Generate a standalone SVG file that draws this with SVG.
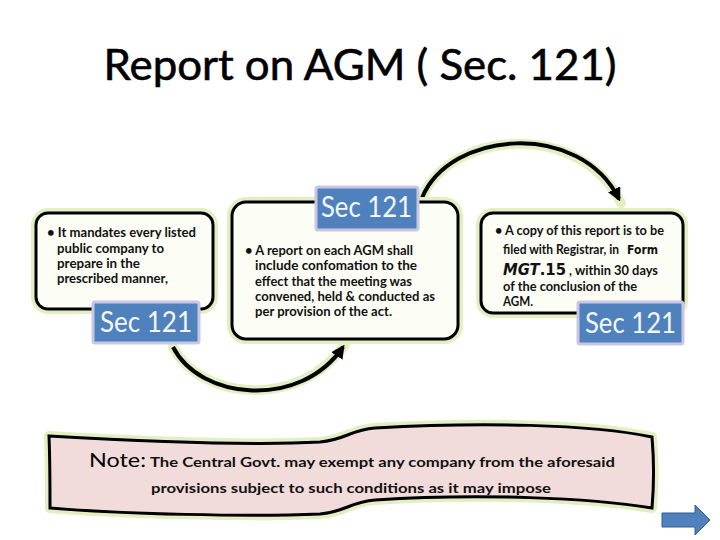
<svg xmlns="http://www.w3.org/2000/svg" width="720" height="540" viewBox="0 0 720 540">
<defs>
<style>
.glow{fill:none;stroke:#e3efc2;stroke-width:10;stroke-linejoin:round;stroke-linecap:round}
.box{fill:#fcfdf4;stroke:#000;stroke-width:3}
.lab{fill:#4f81bd;stroke:#cbc5e4;stroke-width:3}
.labt{font-family:Lato,"Open Sans","Liberation Sans",sans-serif;font-size:28px;fill:#f4f7fb}
.t{font-family:Lato,"Open Sans","Liberation Sans",sans-serif;font-weight:bold;font-size:13px;fill:#111}
.dv{font-family:"DejaVu Sans",sans-serif;font-weight:bold}
.conn{fill:none;stroke:#000;stroke-width:4}
</style>
<marker id="ah" viewBox="0 0 10 10" refX="8" refY="5" markerWidth="3.4" markerHeight="3.4" orient="auto" markerUnits="strokeWidth">
<path d="M0,0 L10,5 L0,10 Z" fill="#000"/>
</marker>
</defs>
<rect width="720" height="540" fill="#fff"/>
<text x="360" y="80" text-anchor="middle" font-family="Lato,'Open Sans','Liberation Sans',sans-serif" font-size="42" fill="#000" stroke="#000" stroke-width="0.6" textLength="513" lengthAdjust="spacingAndGlyphs">Report on AGM ( Sec. 121)</text>

<g id="connectors">
<path class="glow" d="M422,198 C450,130 580,120 621,203"/>
<path class="glow" d="M173,347 C200,400 300,410 345,344"/>
<path class="conn" d="M422,198 C450,130 580,120 619,199" marker-end="url(#ah)"/>
<path class="conn" d="M173,347 C200,400 300,410 343,347" marker-end="url(#ah)"/>
</g>

<g id="node1">
<rect class="glow" x="36" y="213" width="177" height="96" rx="12"/>
<rect class="box" x="36" y="213" width="177" height="96" rx="12"/>
<text class="t" x="47" y="237" textLength="149" lengthAdjust="spacingAndGlyphs">• It mandates every listed</text>
<text class="t" x="57" y="253" textLength="107" lengthAdjust="spacingAndGlyphs">public company to</text>
<text class="t" x="57" y="268" textLength="83" lengthAdjust="spacingAndGlyphs">prepare in the</text>
<text class="t" x="57" y="283" textLength="111" lengthAdjust="spacingAndGlyphs">prescribed manner,</text>
<rect class="lab" x="93" y="302" width="106" height="41" rx="2"/>
<text class="labt" x="100" y="332" textLength="92" lengthAdjust="spacingAndGlyphs">Sec 121</text>
</g>

<g id="node2">
<rect class="glow" x="232" y="202" width="226" height="137" rx="14"/>
<rect class="box" x="232" y="202" width="226" height="137" rx="14"/>
<rect class="lab" x="316" y="187" width="102" height="43" rx="2"/>
<text class="labt" x="321" y="217" textLength="91" lengthAdjust="spacingAndGlyphs">Sec 121</text>
<text class="t" x="245" y="255" textLength="168" lengthAdjust="spacingAndGlyphs">• A report on each AGM shall</text>
<text class="t" x="255" y="270" textLength="162" lengthAdjust="spacingAndGlyphs">include confomation to the</text>
<text class="t" x="255" y="286" textLength="157" lengthAdjust="spacingAndGlyphs">effect that the meeting was</text>
<text class="t" x="255" y="301" textLength="180" lengthAdjust="spacingAndGlyphs">convened, held &amp; conducted as</text>
<text class="t" x="255" y="316" textLength="137" lengthAdjust="spacingAndGlyphs">per provision of the act.</text>
</g>

<g id="node3">
<rect class="glow" x="481" y="213" width="202" height="100" rx="12"/>
<rect class="box" x="481" y="213" width="202" height="100" rx="12"/>
<text class="t" x="495" y="235" textLength="169" lengthAdjust="spacingAndGlyphs">• A copy of this report is to be</text>
<text class="t" x="503" y="254" font-size="12" textLength="116" lengthAdjust="spacingAndGlyphs">filed with Registrar, in</text>
<text class="dv" x="627" y="254" font-size="13" fill="#111" textLength="31" lengthAdjust="spacingAndGlyphs">Form</text>
<text class="t" x="503" y="275" textLength="155" lengthAdjust="spacingAndGlyphs"><tspan class="dv" font-size="15" font-style="italic">MGT</tspan><tspan class="dv" font-size="15">.15</tspan> , within 30 days</text>
<text class="t" x="503" y="291" textLength="134" lengthAdjust="spacingAndGlyphs">of the conclusion of the</text>
<text class="t" x="503" y="306" textLength="30" lengthAdjust="spacingAndGlyphs">AGM.</text>
<rect class="lab" x="578" y="302" width="105" height="42" rx="2"/>
<text class="labt" x="585" y="333" textLength="91" lengthAdjust="spacingAndGlyphs">Sec 121</text>
</g>

<g id="note">
<path class="glow" d="M49,436 C120,440 250,446 320,442 C345,440 350,430 375,428 C480,422 590,424 652,437 C654,460 654,485 652,508 C590,498 480,493 375,500 C350,502 345,512 320,514 C250,517 120,514 50,508 C50,485 50,460 49,436 Z"/>
<path d="M49,436 C120,440 250,446 320,442 C345,440 350,430 375,428 C480,422 590,424 652,437 C654,460 654,485 652,508 C590,498 480,493 375,500 C350,502 345,512 320,514 C250,517 120,514 50,508 C50,485 50,460 49,436 Z" fill="#f2dcdb" stroke="#000" stroke-width="3"/>
<text x="89" y="467" font-family="Lato,'Open Sans','Liberation Sans',sans-serif" font-size="20" fill="#000" textLength="57" lengthAdjust="spacingAndGlyphs">Note:</text>
<text class="t" x="150" y="467" font-size="14" textLength="465" lengthAdjust="spacingAndGlyphs">The Central Govt. may exempt any company from the aforesaid</text>
<text class="t" x="151" y="493" font-size="14" textLength="400" lengthAdjust="spacingAndGlyphs">provisions subject to such conditions as it may impose</text>
</g>

<g id="next-button">
<path d="M662,513 L695,513 L695,505 L710,520 L695,535 L695,527 L662,527 Z" fill="#4f81bd" stroke="#385d8a" stroke-width="1"/>
</g>
</svg>
